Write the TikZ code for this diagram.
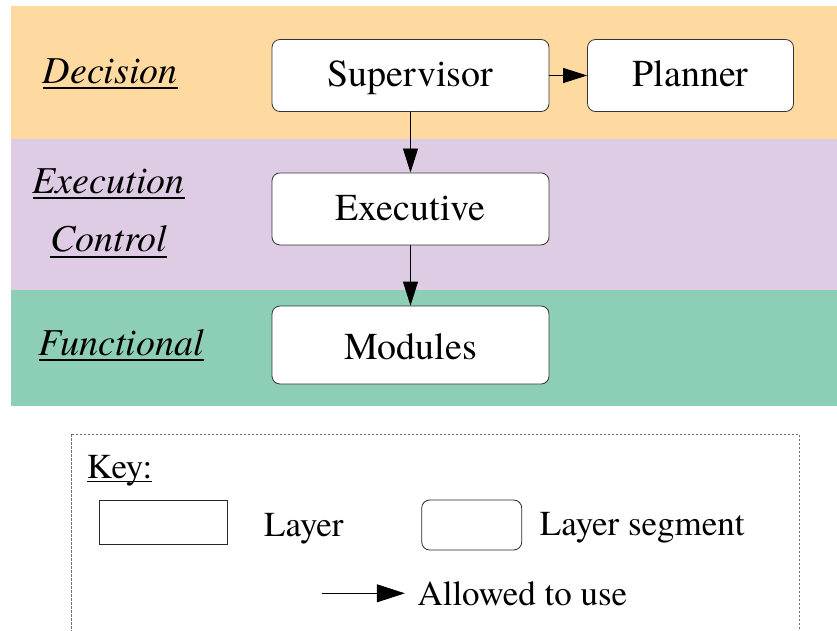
\documentclass[tikz,border=0pt]{standalone}
\usepackage{fontspec}
\setmainfont{texgyretermes}[
  Extension=.otf,
  UprightFont=*-regular,
  ItalicFont=*-italic,
  BoldFont=*-bold,
  BoldItalicFont=*-bolditalic]
\usetikzlibrary{arrows.meta}

\definecolor{decisionband}{RGB}{254,217,160}
\definecolor{executionband}{RGB}{222,203,228}
\definecolor{functionalband}{RGB}{141,206,182}
\definecolor{keyframe}{RGB}{110,110,110}

% text with a heavy underline: #1 depth of rule bottom, #2 thickness, #3 text
\newcommand{\ulinetext}[3]{\leavevmode\setbox0=\hbox{#3}\rlap{\rule[-#1]{\wd0}{#2}}\box0}

\begin{document}
\begin{tikzpicture}[x=1pt,y=-1pt,
  segment/.style={draw=black!80, line width=0.8pt, fill=white, rounded corners=8pt,
    inner sep=0pt, font=\fontsize{38}{40}\selectfont, text height=26pt, text depth=3.6pt},
  layerlabel/.style={anchor=base, inner sep=0pt, font=\fontsize{38}{40}\selectfont\itshape},
  keytext/.style={anchor=base west, inner sep=0pt, font=\fontsize{35}{38}\selectfont},
  uses/.style={-{Triangle[length=24pt,width=15pt]}, line width=0.8pt},
  keyuses/.style={-{Triangle[length=28pt,width=18pt]}, line width=0.8pt},
]
\clip (0,0) rectangle (837,630);

% layer bands
\fill[decisionband]  (11,6)     rectangle (837,139.3);
\fill[executionband] (11,139.3) rectangle (837,290);
\fill[functionalband](11,290)   rectangle (837,405.7);

% layer names
\node[layerlabel] (ldecision)   at (110.3,83.3) {\ulinetext{6pt}{2pt}{Decision}};
\node[layerlabel] (lexecution)  at (108.7,193.3) {\ulinetext{6pt}{2pt}{Execution}};
\node[layerlabel] (lcontrol)    at (108.8,251.7) {\ulinetext{6pt}{2pt}{Control}};
\node[layerlabel] (lfunctional) at (121.3,355) {\ulinetext{6pt}{2pt}{Functional}};

% layer segments
\node[segment, minimum width=277pt, minimum height=72pt] (supervisor) at (410.5,75.5) {Supervisor};
\node[segment, minimum width=206pt, minimum height=72pt] (planner)    at (690.5,75.5) {Planner};
\node[segment, minimum width=277pt, minimum height=72pt] (executive)  at (410.5,208.9) {Executive};
\node[segment, minimum width=277pt, minimum height=78pt, text height=28pt, text depth=0pt] (modules) at (410.5,345) {Modules};

% uses relations
\draw[uses] (supervisor) -- (planner);
\draw[uses] (supervisor) -- (executive);
\draw[uses] (executive) -- (modules);

% key
\draw[keyframe, line width=1pt, dash pattern=on 2.5pt off 1.5pt] (71.7,434) rectangle (799,680);
\node[keytext] (keytitle) at (86.7,478) {\ulinetext{4.4pt}{1.5pt}{Key:}};
\node[draw=black!85, line width=0.8pt, inner sep=0pt, minimum width=128pt, minimum height=44pt] (keylayer) at (163.7,522) {};
\node[keytext] (keylayertext) at (264,536) {Layer};
\node[draw=black!85, line width=0.8pt, rounded corners=8pt, inner sep=0pt, minimum width=100pt, minimum height=50pt] (keysegment) at (471.7,525) {};
\node[keytext] (keysegmenttext) at (539.7,535) {Layer segment};
\node[keytext, inner xsep=12.5pt] (keyuse) at (404.8,605) {Allowed to use};
\coordinate (keyarrowstart) at (321.7,593.3);
\draw[keyuses] (keyarrowstart) -- (keyarrowstart -| keyuse.west);
\end{tikzpicture}
\end{document}
